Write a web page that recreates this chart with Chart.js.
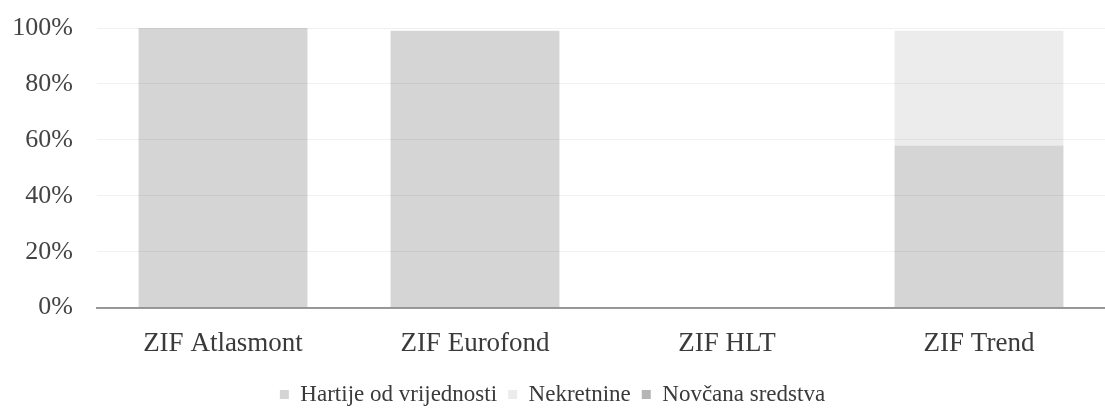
<!DOCTYPE html>
<html>
<head>
<meta charset="utf-8">
<script src="https://cdn.jsdelivr.net/npm/chart.js@4"></script>
<style>
html,body{margin:0;padding:0;background:#fff;}
#wrap{width:1105px;height:414px;position:relative;}
</style>
</head>
<body>
<div id="wrap"><canvas id="c" width="1105" height="414"></canvas></div>
<script>
const categories = ["ZIF Atlasmont", "ZIF Eurofond", "ZIF HLT", "ZIF Trend"];
const seriesNames = ["Hartije od vrijednosti", "Nekretnine", "Novčana sredstva"];
const hartije = [100, 99, 0, 58];
const nekretnine = [0, 0, 0, 41];
const novcana = [0, 0, 0, 0];
const yTicks = [0, 20, 40, 60, 80, 100];

const colors = ["#d5d5d5", "#ececec", "#b5b5b5"];
const font = "'Liberation Serif', 'DejaVu Serif', serif";

new Chart(document.getElementById('c'), {
  type: 'bar',
  data: {
    labels: categories,
    datasets: [
      { label: seriesNames[0], data: hartije, backgroundColor: colors[0] },
      { label: seriesNames[1], data: nekretnine, backgroundColor: colors[1] },
      { label: seriesNames[2], data: novcana, backgroundColor: colors[2] }
    ]
  },
  options: {
    responsive: false,
    animation: false,
    layout: { padding: { left: 0, right: 0, top: 28, bottom: -2 } },
    datasets: { bar: { categoryPercentage: 0.67, barPercentage: 1 } },
    scales: {
      x: {
        stacked: true,
        grid: { display: false },
        border: { display: true, color: '#9a9a9a', width: 2 },
        ticks: { color: '#3a3a3a', font: { family: font, size: 27 }, padding: 12 }
      },
      y: {
        stacked: true,
        min: 0, max: 100,
        afterBuildTicks: (axis) => { axis.ticks = yTicks.map(v => ({ value: v })); },
        afterFit: (s) => { s.width = 97; s.paddingTop = 0; s.paddingBottom = 0; },
        grid: { color: 'rgba(110,110,110,0.10)', drawTicks: false, z: 1 },
        border: { display: false },
        ticks: { color: '#444', font: { family: font, size: 26 }, padding: 24, callback: v => v + '%' }
      }
    },
    plugins: {
      legend: {
        position: 'bottom',
        labels: {
          color: '#3a3a3a',
          font: { family: font, size: 23 },
          boxWidth: 9, boxHeight: 9,
          padding: 11
        }
      },
      tooltip: { enabled: false }
    }
  }
});
</script>
</body>
</html>
